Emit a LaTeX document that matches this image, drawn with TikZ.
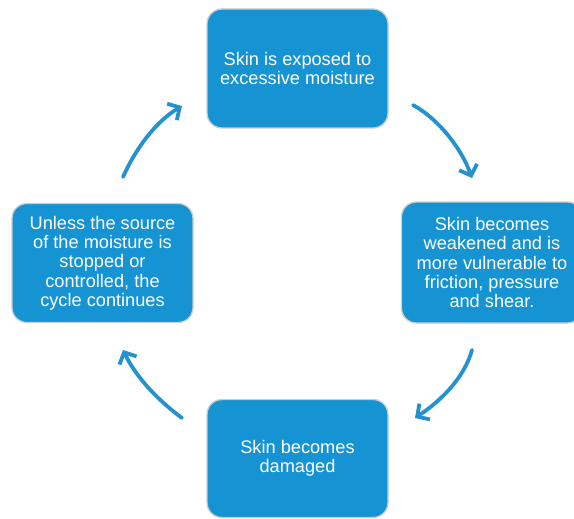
\documentclass[tikz,border=0pt]{standalone}
\usepackage{fontspec}
\setmainfont{Liberation Sans}
\usetikzlibrary{arrows.meta}
\definecolor{boxblue}{HTML}{1593D3}
\definecolor{arrowblue}{HTML}{2592CF}
\definecolor{edgegray}{HTML}{C9CDD2}
\tikzset{
  cyclebox/.style={rectangle, rounded corners=15pt, fill=boxblue, draw=edgegray, line width=1.3pt,
    text=white, font=\fontsize{18.2}{19.3}\selectfont, align=center, inner sep=0pt,
    minimum width=181pt, minimum height=119pt},
  cyclearrow/.style={draw=arrowblue, line width=3.8pt, line cap=round,
    -{Straight Barb[length=9pt,width=19pt,line width=3.8pt]}}
}
\begin{document}
\begin{tikzpicture}[x=1pt,y=-1pt]
\useasboundingbox (0,0) rectangle (574,519);
\begin{scope}
\clip (0,0) rectangle (574,519);
\node[cyclebox] (top) at (297.5,68.5)
  {Skin is exposed to\\excessive moisture};
\node[cyclebox, minimum height=121pt] (right) at (492,262.5)
  {Skin becomes\\weakened and is\\more vulnerable to\\friction, pressure\\and shear.};
\node[cyclebox, minimum height=118pt] (bottom) at (297.5,458.5)
  {Skin becomes\\damaged};
\node[cyclebox] (left) at (102.5,263)
  {Unless the source\\of the moisture is\\stopped or\\controlled, the\\cycle continues};
\end{scope}
\coordinate (a1s) at (413,105);
\coordinate (a1e) at (472,178);
\coordinate (a2s) at (472,350);
\coordinate (a2e) at (415,418);
\coordinate (a3s) at (182,418);
\coordinate (a3e) at (123,350);
\coordinate (a4s) at (123,177);
\coordinate (a4e) at (182,106);
\draw[cyclearrow] (a1s) .. controls (440,120) and (462,150) .. (a1e);
\draw[cyclearrow] (a2s) .. controls (465,375) and (445,398) .. (a2e);
\draw[cyclearrow] (a3s) .. controls (155,398) and (135,375) .. (a3e);
\draw[cyclearrow] (a4s) .. controls (135,150) and (155,122) .. (a4e);
\end{tikzpicture}
\end{document}
